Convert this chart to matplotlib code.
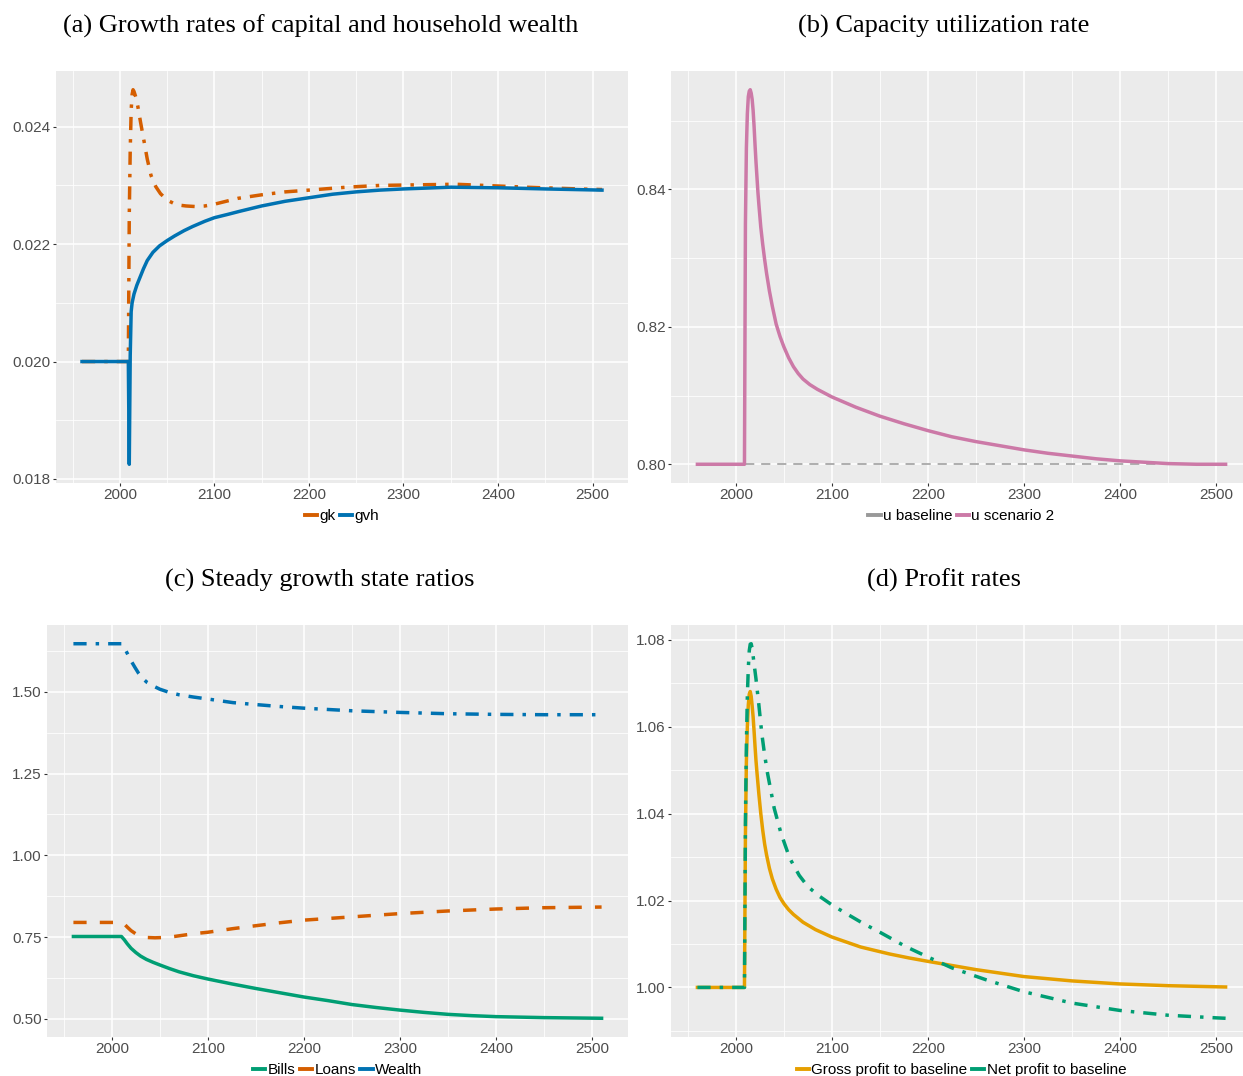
import matplotlib
matplotlib.use("Agg")
import matplotlib.pyplot as plt
from matplotlib.lines import Line2D
from matplotlib.ticker import MultipleLocator, FormatStrFormatter

# (a) growth rates
gk_years = [1960, 2009, 2010, 2011, 2012, 2013, 2014, 2015, 2017, 2019, 2022, 2026, 2029,
            2033, 2038, 2043, 2050, 2060, 2070, 2080, 2090, 2100, 2125, 2150, 2175, 2200,
            2240, 2275, 2315, 2355, 2385, 2430, 2485, 2510]
gk = [0.0200, 0.0200, 0.0225, 0.0236, 0.02428, 0.02455, 0.02463, 0.0246, 0.0245, 0.02435,
      0.02407, 0.02372, 0.02345, 0.02317, 0.02298, 0.02286, 0.02275, 0.02267, 0.02265,
      0.02264, 0.02265, 0.02268, 0.02278, 0.02284, 0.02289, 0.02292, 0.02297, 0.02300,
      0.02301, 0.02302, 0.02300, 0.02297, 0.02294, 0.02293]
gvh_years = [1960, 2009, 2010, 2011, 2012, 2013, 2015, 2018, 2021, 2025, 2029, 2035, 2042,
             2050, 2058, 2068, 2077, 2090, 2100, 2115, 2127, 2150, 2175, 2200, 2225, 2250,
             2275, 2300, 2350, 2400, 2450, 2510]
gvh = [0.0200, 0.0200, 0.01825, 0.0201, 0.02085, 0.0210, 0.02115, 0.02130, 0.02142, 0.02158,
       0.02172, 0.02186, 0.02197, 0.02206, 0.02214, 0.02223, 0.02230, 0.02239, 0.02245,
       0.02251, 0.02256, 0.02265, 0.02273, 0.02279, 0.02285, 0.02289, 0.02292, 0.02294,
       0.02297, 0.02296, 0.02294, 0.02292]

# (b) capacity utilization
u_base_years = [1960, 2510]
u_base = [0.80, 0.80]
u_s2_years = [1960, 2009, 2010, 2011, 2012, 2013, 2014, 2015, 2016, 2017, 2018, 2019, 2020,
              2021, 2022, 2023, 2024, 2026, 2028, 2030, 2032, 2035, 2038, 2042, 2046, 2050,
              2055, 2060, 2065, 2070, 2077, 2085, 2100, 2125, 2150, 2175, 2200, 2225, 2250,
              2275, 2300, 2325, 2350, 2375, 2400, 2425, 2450, 2480, 2510]
u_s2 = [0.800, 0.800, 0.835, 0.846, 0.851, 0.8535, 0.8543, 0.8545, 0.8540, 0.8531, 0.8515,
        0.8492, 0.8465, 0.8440, 0.8418, 0.8396, 0.8378, 0.8345, 0.8320, 0.8298, 0.8278,
        0.8252, 0.8230, 0.8204, 0.8186, 0.8171, 0.8155, 0.8142, 0.8132, 0.8124, 0.8116,
        0.8109, 0.8098, 0.8083, 0.8070, 0.8059, 0.8049, 0.8040, 0.8033, 0.8027, 0.8021,
        0.8016, 0.8012, 0.8008, 0.8005, 0.8003, 0.8001, 0.8000, 0.8000]

# (c) steady state ratios
bills_years = [1960, 2010, 2013, 2016, 2020, 2025, 2030, 2036, 2043, 2050, 2060, 2070, 2085,
               2100, 2125, 2150, 2175, 2200, 2225, 2250, 2275, 2300, 2325, 2350, 2375, 2400,
               2450, 2510]
bills = [0.752, 0.752, 0.742, 0.730, 0.716, 0.703, 0.692, 0.682, 0.673, 0.665, 0.654, 0.644,
         0.632, 0.622, 0.607, 0.593, 0.580, 0.567, 0.556, 0.544, 0.535, 0.527, 0.520, 0.514,
         0.510, 0.507, 0.504, 0.502]
loans_years = [1960, 2010, 2013, 2016, 2020, 2025, 2030, 2036, 2045, 2055, 2065, 2077, 2090,
               2100, 2126, 2150, 2175, 2200, 2250, 2300, 2350, 2400, 2450, 2510]
loans = [0.795, 0.795, 0.790, 0.781, 0.770, 0.760, 0.753, 0.749, 0.748, 0.749, 0.752, 0.757,
         0.762, 0.765, 0.776, 0.785, 0.794, 0.802, 0.812, 0.822, 0.830, 0.836, 0.840, 0.842]
wealth_years = [1960, 2010, 2013, 2016, 2020, 2024, 2028, 2032, 2037, 2043, 2050, 2060, 2070,
                2085, 2100, 2126, 2150, 2175, 2200, 2250, 2300, 2350, 2400, 2450, 2510]
wealth = [1.647, 1.647, 1.635, 1.618, 1.595, 1.575, 1.556, 1.541, 1.528, 1.518, 1.508, 1.498,
          1.491, 1.484, 1.478, 1.467, 1.461, 1.455, 1.450, 1.442, 1.437, 1.433, 1.431, 1.430,
          1.430]

# (d) profit rates
gross_years = [1960, 2009, 2010, 2011, 2012, 2013, 2014, 2015, 2016, 2017, 2018, 2019, 2020,
               2021, 2022, 2023, 2024, 2026, 2028, 2030, 2032, 2035, 2038, 2042, 2046, 2050,
               2055, 2060, 2070, 2083, 2100, 2130, 2160, 2180, 2200, 2250, 2300, 2350, 2400,
               2450, 2510]
gross = [1.0, 1.0, 1.035, 1.052, 1.060, 1.065, 1.0675, 1.0681, 1.0670, 1.0648, 1.0623,
         1.0590, 1.0555, 1.0522, 1.0495, 1.0470, 1.0445, 1.0400, 1.0362, 1.0330, 1.0305,
         1.0274, 1.0250, 1.0226, 1.0207, 1.0193, 1.0179, 1.0168, 1.0150, 1.0133, 1.0116,
         1.0093, 1.0077, 1.0068, 1.0060, 1.0041, 1.0025, 1.0015, 1.0008, 1.0004, 1.0001]
net_years = [1960, 2009, 2010, 2011, 2012, 2013, 2014, 2015, 2016, 2017, 2018, 2019, 2021,
             2024, 2027, 2030, 2033, 2040, 2047, 2056, 2066, 2075, 2087, 2100, 2115, 2132,
             2150, 2177, 2200, 2225, 2260, 2300, 2350, 2400, 2450, 2500, 2510]
net = [1.0, 1.0, 1.038, 1.056, 1.067, 1.0735, 1.0775, 1.0790, 1.0791, 1.0780, 1.0763, 1.0745,
       1.0710, 1.0650, 1.0585, 1.0535, 1.0493, 1.0412, 1.0355, 1.0298, 1.0258, 1.0232,
       1.0210, 1.0190, 1.0170, 1.0148, 1.0127, 1.0094, 1.0070, 1.0045, 1.0018, 0.9990,
       0.9964, 0.9947, 0.9936, 0.9930, 0.9929]

ORANGE = "#D55E00"
BLUE = "#0072B2"
PINK = "#CC79A7"
GREY = "#999999"
GREEN = "#009E73"
GOLD = "#E69F00"

W, H = 1243, 1076
fig = plt.figure(figsize=(W / 100, H / 100), dpi=100)
fig.patch.set_facecolor("white")

LW = 2.5
DOTDASH = (3.8, 2.6, 1, 2.6)
DASHED = (3.8, 3.8)


def add_panel(left, top, right, bottom):
    return fig.add_axes([left / W, 1 - bottom / H, (right - left) / W, (bottom - top) / H])


def style(ax, series, ymajor, fmt):
    lo = min(min(s) for s in series)
    hi = max(max(s) for s in series)
    pad = (hi - lo) * 0.05
    ax.set_ylim(lo - pad, hi + pad)
    ax.set_xlim(1932.5, 2537.5)
    ax.set_facecolor("#EBEBEB")
    ax.xaxis.set_major_locator(MultipleLocator(100))
    ax.xaxis.set_minor_locator(MultipleLocator(50))
    ax.yaxis.set_major_locator(MultipleLocator(ymajor))
    ax.yaxis.set_minor_locator(MultipleLocator(ymajor / 2))
    ax.yaxis.set_major_formatter(FormatStrFormatter(fmt))
    ax.grid(which="major", color="white", lw=1.1)
    ax.grid(which="minor", color="white", lw=0.55)
    ax.set_axisbelow(True)
    for s in ax.spines.values():
        s.set_visible(False)
    ax.tick_params(which="minor", length=0)
    ax.tick_params(which="major", length=2.3, width=0.8, color="#333333",
                   labelcolor="#4D4D4D", labelsize=11, pad=1.5)
    for lab in ax.get_xticklabels() + ax.get_yticklabels():
        lab.set_fontfamily("Liberation Sans")


def legend(ax, labels, colors):
    handles = [Line2D([], [], color=c, lw=2.8) for c in colors]
    ax.legend(handles, labels, loc="center", bbox_to_anchor=(0.5, -33 / 412), ncol=len(labels),
              frameon=False, handlelength=0.8, handletextpad=0.15, columnspacing=0.3,
              borderaxespad=0, prop={"family": "Liberation Sans", "size": 11})


def title(x, y, text):
    fig.text(x / W, 1 - y / H, text, ha="center", va="center",
             fontfamily="Liberation Serif", fontsize=19)


# panel a
ax = add_panel(56, 71, 628, 483)
ax.plot(gk_years, gk, color=ORANGE, lw=LW, dashes=DOTDASH)
ax.plot(gvh_years, gvh, color=BLUE, lw=LW)
style(ax, [gk, gvh], 0.002, "%.3f")
legend(ax, ["gk", "gvh"], [ORANGE, BLUE])
title(321, 26, "(a) Growth rates of capital and household wealth")

# panel b
ax = add_panel(671, 71, 1252, 483)
ax.plot(u_base_years, u_base, color=GREY, lw=1.1, dashes=(6, 4.5))
ax.plot(u_s2_years, u_s2, color=PINK, lw=LW)
style(ax, [u_base, u_s2], 0.02, "%.2f")
legend(ax, ["u baseline", "u scenario 2"], [GREY, PINK])
title(944, 26, "(b) Capacity utilization rate")

# panel c
ax = add_panel(47, 625, 628, 1037)
ax.plot(bills_years, bills, color=GREEN, lw=LW)
ax.plot(loans_years, loans, color=ORANGE, lw=LW, dashes=DASHED)
ax.plot(wealth_years, wealth, color=BLUE, lw=LW, dashes=DOTDASH)
style(ax, [bills, loans, wealth], 0.25, "%.2f")
legend(ax, ["Bills", "Loans", "Wealth"], [GREEN, ORANGE, BLUE])
title(320, 580, "(c) Steady growth state ratios")

# panel d
ax = add_panel(671, 625, 1252, 1037)
ax.plot(gross_years, gross, color=GOLD, lw=LW)
ax.plot(net_years, net, color=GREEN, lw=LW, dashes=DOTDASH)
style(ax, [gross, net], 0.02, "%.2f")
legend(ax, ["Gross profit to baseline", "Net profit to baseline"], [GOLD, GREEN])
title(944, 580, "(d) Profit rates")

fig.savefig("out.png", dpi=100)
